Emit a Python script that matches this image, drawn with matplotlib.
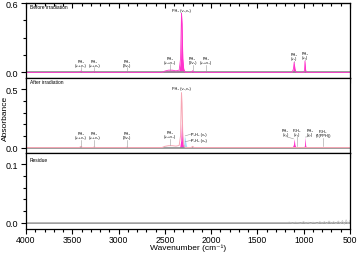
import matplotlib.pyplot as plt
from matplotlib.ticker import MultipleLocator, FormatStrFormatter

plt.rcParams['font.family'] = ['Liberation Sans', 'DejaVu Sans']

# fitted PH3 bands before irradiation (wavenumber cm-1, absorbance)
wn_before = [4000, 3425, 3406, 3390, 3275, 3262, 3250, 2925, 2909, 2895,
             2530, 2500, 2460, 2420, 2380, 2345, 2330, 2320, 2314, 2306,
             2296, 2280, 2215, 2199, 2185, 2068, 2056, 2044,
             1125, 1110, 1102, 1094, 1080, 998, 990, 985, 978, 970, 500]
abs_before = [0, 0, 0.012, 0, 0, 0.008, 0, 0, 0.004, 0,
              0, 0.012, 0.02, 0.02, 0.014, 0.02, 0.12, 0.51, 0.42, 0.12,
              0.03, 0, 0, 0.015, 0, 0, 0.005, 0,
              0, 0.03, 0.088, 0.03, 0, 0, 0.02, 0.1, 0.02, 0, 0]

# after irradiation: PH3 envelope, P2H4 components
wn_after = [4000, 3425, 3406, 3390, 3275, 3262, 3250, 2925, 2909, 2895,
            2530, 2500, 2460, 2420, 2380, 2345, 2330, 2320, 2314, 2306,
            2296, 2280, 2215, 2199, 2185, 500]
abs_after = [0, 0, 0.01, 0, 0, 0.006, 0, 0, 0.003, 0,
             0, 0.01, 0.016, 0.016, 0.012, 0.018, 0.1, 0.47, 0.38, 0.1,
             0.025, 0, 0, 0.01, 0, 0]
wn_after_fill = [2340, 2328, 2318, 2312, 2305, 2295, 1125, 1110, 1102, 1094,
                 1080, 998, 990, 985, 978, 970]
abs_after_fill = [0, 0.06, 0.245, 0.2, 0.06, 0, 0, 0.025, 0.076, 0.025,
                  0, 0, 0.02, 0.09, 0.02, 0]
wn_p2h4 = [2305, 2295, 2288, 2280, 2270, 2260]
abs_p2h4 = [0, 0.03, 0.1, 0.08, 0.03, 0]

# residue
wn_res = [4000, 1500, 1200, 1150, 1120, 1090, 1060, 1030, 1000, 975, 950,
          925, 900, 875, 850, 825, 800, 775, 750, 725, 700, 675, 650,
          625, 600, 580, 560, 540, 520, 500]
abs_res = [0, 0, 0, 0.001, -0.001, 0.001, 0, -0.001, 0.002, -0.001, 0.001,
           -0.002, 0.001, 0, -0.002, 0.002, -0.001, 0.002, -0.002, 0.003,
           -0.001, 0.002, -0.002, 0.003, -0.002, 0.004, -0.003, 0.005,
           -0.002, 0.004]

# band labels: text, label x, label y, leader start y, leader end x, leader end y
labels_before = [
    ("PH₃\n(ν₁+ν₄)", 3406, 0.05, 0.045, 3406, 0.012),
    ("PH₃\n(ν₁+ν₂)", 3262, 0.05, 0.045, 3262, 0.01),
    ("PH₃\n(3ν₂)", 2909, 0.05, 0.045, 2909, 0.006),
    ("PH₃\n(ν₂+ν₄)", 2444, 0.075, 0.07, 2444, 0.025),
    ("PH₃\n(2ν₄)", 2199, 0.07, 0.065, 2199, 0.018),
    ("PH₃\n(ν₂+ν₄)", 2056, 0.07, 0.065, 2056, 0.008),
    ("PH₃\n(ν₄)", 1102, 0.105, 0.1, 1102, 0.09),
    ("PH₃\n(ν₂)", 986, 0.12, 0.115, 986, 0.105),
]
labels_after = [
    ("PH₃\n(ν₁+ν₄)", 3406, 0.07, 0.065, 3406, 0.012),
    ("PH₃\n(ν₁+ν₂)", 3262, 0.07, 0.065, 3262, 0.01),
    ("PH₃\n(3ν₂)", 2909, 0.07, 0.065, 2909, 0.006),
    ("PH₃\n(ν₂+ν₄)", 2444, 0.08, 0.075, 2444, 0.02),
    ("PH₃\n(ν₄)", 1195, 0.1, 0.095, 1110, 0.075),
    ("P₂H₄\n(ν₄)", 1072, 0.1, 0.095, 1072, 0.015),
    ("PH₃\n(ν₂)", 932, 0.1, 0.095, 980, 0.09),
    ("P₂H₄\n(δ(PPH))", 790, 0.09, 0.085, 790, 0.01),
]

fig, (ax1, ax2, ax3) = plt.subplots(3, 1, figsize=(3.57, 2.55), dpi=100, sharex=True)
fig.subplots_adjust(left=0.073, right=0.98, top=0.984, bottom=0.1, hspace=0)

ax1.plot([4000, 500], [0, 0], color='#8c8c8c', lw=1.2)
ax1.fill_between(wn_before, abs_before, color='#ff33cc', lw=0)
ax1.plot(wn_before, abs_before, color='#ff33cc', lw=0.6)

ax2.plot([4000, 500], [0, 0], color='#8c8c8c', lw=1.2)
ax2.plot(wn_after, abs_after, color='#f7a6b4', lw=0.7)
ax2.fill_between(wn_after_fill, abs_after_fill, color='#ff33cc', lw=0)
ax2.fill_between(wn_p2h4, abs_p2h4, color='#8fd3f5', lw=0, alpha=0.8)

ax3.plot([4000, 500], [0, 0], color='#8c8c8c', lw=1.2)
ax3.plot(wn_res, abs_res, color='#c8c8c8', lw=0.5)

for ax, labels in ((ax1, labels_before), (ax2, labels_after)):
    for txt, lx, ly, y0, px, py in labels:
        ax.text(lx, ly, txt, fontsize=2.8, ha='center', va='bottom', linespacing=1.0)
        ax.plot([lx, px], [y0, py], color='#999999', lw=0.4)

ax1.text(2318, 0.525, "PH₃ (ν₁,ν₃)", fontsize=2.8, ha='center', va='bottom')
ax2.text(2318, 0.49, "PH₃ (ν₁,ν₃)", fontsize=2.8, ha='center', va='bottom')
ax2.text(2130, 0.12, "P₂H₄ (ν₁)", fontsize=2.8, ha='center', va='center')
ax2.text(2130, 0.065, "P₂H₄ (ν₅)", fontsize=2.8, ha='center', va='center')
ax2.plot([2200, 2280], [0.12, 0.1], color='#999999', lw=0.4)
ax2.plot([2200, 2280], [0.065, 0.05], color='#999999', lw=0.4)

ax1.text(0.012, 0.94, "Before irradiation", transform=ax1.transAxes, fontsize=3.5)
ax2.text(0.012, 0.94, "After irradiation", transform=ax2.transAxes, fontsize=3.5)
ax3.text(0.012, 0.9, "Residue", transform=ax3.transAxes, fontsize=3.5)

ax1.set_ylim(-0.05, 0.6)
ax2.set_ylim(-0.05, 0.595)
ax3.set_ylim(-0.01, 0.119)
for ax, major, minor in ((ax1, 0.6, 0.15), (ax2, 0.5, 0.1), (ax3, 0.1, 0.02)):
    ax.set_xlim(4000, 500)
    ax.xaxis.set_major_locator(MultipleLocator(500))
    ax.xaxis.set_minor_locator(MultipleLocator(100))
    ax.yaxis.set_major_locator(MultipleLocator(major))
    ax.yaxis.set_minor_locator(MultipleLocator(minor))
    ax.yaxis.set_major_formatter(FormatStrFormatter('%.1f'))
    ax.tick_params(axis='x', which='both', direction='out', top=False, width=0.8)
    ax.tick_params(axis='y', which='both', direction='out', right=False, width=0.8)
    ax.tick_params(which='major', length=3.5, labelsize=6.5, pad=2)
    ax.tick_params(which='minor', length=2)
    for s in ax.spines.values():
        s.set_linewidth(0.9)

top = ax1.secondary_xaxis('top')
top.xaxis.set_major_locator(MultipleLocator(500))
top.xaxis.set_minor_locator(MultipleLocator(100))
top.tick_params(axis='x', which='both', direction='in', labeltop=False, width=0.8)
top.tick_params(which='major', length=3.5)
top.tick_params(which='minor', length=2)

ax3.tick_params(axis='x', labelsize=6.2, pad=1)
ax3.set_xlabel("Wavenumber (cm⁻¹)", fontsize=6, labelpad=0)
fig.text(0.016, 0.537, "Absorbance", rotation=90, ha='center', va='center', fontsize=6)

fig.savefig('out.png', dpi=100)
